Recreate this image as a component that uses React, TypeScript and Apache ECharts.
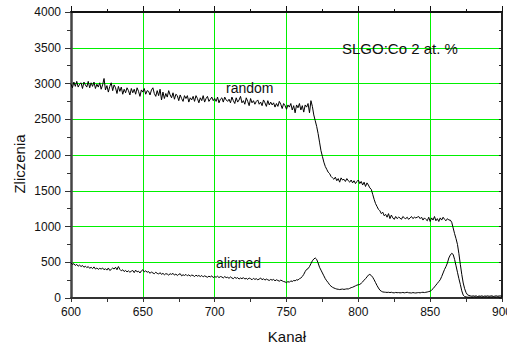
import { useEffect, useRef } from "react";
import * as echarts from "echarts";

const channelStart = 600;

// "random" spectrum, one value per channel from 600 to 900
const randomCounts = [
  2990, 2940, 3020, 2960, 3030, 2950, 2990, 3010, 2930, 3020,
  2980, 2950, 3030, 2940, 3010, 2960, 3020, 2930, 2990, 2950,
  3010, 2920, 2980, 3070, 2910, 2970, 2880, 2960, 3010, 2900,
  2980, 2940, 2860, 2960, 2890, 2950, 2850, 2920, 2870, 2940,
  2900, 2840, 2930, 2870, 2920, 2850, 2940, 2890, 2820, 2910,
  2880, 2930, 2850, 2900, 2890, 2840, 2910, 2940, 2860, 2820,
  2900, 2830, 2920, 2770, 2880, 2790, 2860, 2810, 2900, 2840,
  2800, 2870, 2780, 2850, 2830, 2760, 2840, 2790, 2750, 2830,
  2790, 2830, 2740, 2800, 2770, 2820, 2750, 2830, 2790, 2730,
  2800, 2760, 2830, 2740, 2790, 2820, 2750, 2780, 2810, 2760,
  2790, 2750, 2810, 2730, 2780, 2800, 2740, 2810, 2770, 2750,
  2780, 2730, 2810, 2760, 2720, 2800, 2740, 2770, 2820, 2730,
  2760, 2710, 2800, 2750, 2690, 2790, 2730, 2760, 2710, 2750,
  2770, 2710, 2740, 2690, 2770, 2730, 2680, 2760, 2700, 2740,
  2700, 2730, 2670, 2720, 2680, 2750, 2710, 2650, 2720, 2690,
  2640, 2700, 2670, 2720, 2630, 2690, 2590, 2700, 2660, 2720,
  2630, 2690, 2600, 2700, 2670, 2720, 2590, 2760, 2680, 2560,
  2480, 2400, 2300, 2180, 2060, 1980, 1900, 1840, 1800, 1760,
  1740, 1700, 1680, 1660, 1690, 1640, 1670, 1620, 1680, 1650,
  1660, 1630, 1670, 1640, 1620, 1650, 1610, 1640, 1600, 1630,
  1650, 1600, 1630, 1580, 1620, 1560, 1610, 1580, 1540, 1520,
  1450, 1380, 1320, 1280, 1240, 1220, 1180, 1200, 1150, 1170,
  1130, 1180, 1110, 1160, 1120, 1100, 1140, 1110, 1130, 1120,
  1100, 1140, 1120, 1110, 1130, 1100, 1120, 1140, 1110, 1130,
  1120, 1130, 1140, 1110, 1130, 1090, 1120, 1100, 1080, 1130,
  1070, 1120, 1090, 1140, 1080, 1110, 1070, 1120, 1090, 1130,
  1100, 1080, 1110, 1090, 1090, 1060, 980, 900, 830, 750,
  620, 470, 330, 210, 130, 75, 45, 35, 30, 25,
  30, 25, 30, 20, 28, 25, 30, 22, 28, 25,
  30, 24, 28, 30, 22, 26, 30, 25, 28, 30,
  25,
];

// "aligned" spectrum, one value per channel from 600 to 900
const alignedCounts = [
  490, 470, 480, 455, 470, 445, 460, 440, 455, 430,
  445, 425, 440, 415, 430, 410, 435, 405, 420, 400,
  415, 405, 420, 395, 410, 390, 420, 385, 400, 420,
  405, 430, 395, 440, 400, 380, 395, 370, 385, 365,
  380, 360, 375, 385, 355, 390, 365, 375, 350, 380,
  395, 365, 380, 360, 370, 345, 365, 350, 340, 360,
  345, 335, 355, 330, 345, 325, 340, 335, 320, 340,
  330, 345, 320, 335, 315, 330, 340, 310, 325, 315,
  330, 310, 325, 305, 320, 315, 300, 320, 305, 315,
  300, 315, 295, 310, 300, 290, 305, 295, 310, 285,
  300, 290, 305, 285, 300, 295, 280, 300, 285, 290,
  275, 295, 280, 270, 290, 275, 285, 265, 280, 270,
  285, 265, 275, 260, 280, 270, 255, 275, 260, 270,
  255, 265, 280, 255, 270, 250, 265, 255, 245, 260,
  250, 260, 240, 255, 245, 235, 250, 240, 230, 225,
  215, 230, 220, 240, 230, 245, 240, 255, 250, 270,
  280, 300, 330, 370, 400, 410, 440, 480, 520, 545,
  560, 540, 490, 430, 390, 350, 310, 270, 240, 215,
  185, 165, 150, 140, 132, 125, 122, 118, 122, 125,
  120, 124, 128, 126, 135, 145, 150, 160, 170, 180,
  185, 190, 205, 225, 250, 270, 295, 320, 330, 315,
  290, 255, 215, 175, 140, 110, 95, 85, 82, 80,
  78, 80, 76, 80, 74, 72, 78, 74, 76, 72,
  74, 78, 72, 76, 80, 74, 72, 70, 76, 72,
  70, 74, 76, 72, 78, 80, 76, 80, 84, 90,
  95, 110, 130, 155, 180, 205, 230, 255, 300, 350,
  400, 440, 490, 560, 600, 625, 610, 540, 450, 360,
  270, 190, 100, 40, 20, 15, 12, 10, 12, 10,
  12, 15, 10, 14, 12, 16, 10, 14, 12, 15,
  12, 10, 14, 12, 15, 10, 12, 14, 10, 12,
  12,
];

const xMin = 600;
const xMax = 900;
const xStep = 50;
const yMin = 0;
const yMax = 4000;
const yStep = 500;

const xAxisTitle = "Kanał";
const yAxisTitle = "Zliczenia";
const sampleLabel = "SLGO:Co 2 at. %";
const randomLabel = "random";
const alignedLabel = "aligned";

const FONT = "Liberation Sans, Arial, sans-serif";
const GRID_GREEN = "#00f000";

export default function App() {
  const ref = useRef<HTMLDivElement>(null);

  useEffect(() => {
    if (!ref.current) return;
    const chart = echarts.init(ref.current, undefined, { renderer: "svg" });
    const toPairs = (arr: number[]) => arr.map((v, i) => [channelStart + i, v]);
    const plain = (v: number) => String(v);

    chart.setOption({
      animation: false,
      backgroundColor: "#ffffff",
      grid: {
        left: 71,
        right: 5,
        top: 12,
        bottom: 47,
        containLabel: false,
        outerBoundsMode: "none",
      },
      xAxis: [
        {
          type: "value",
          position: "bottom",
          min: xMin,
          max: xMax,
          interval: xStep,
          axisLine: { show: true, onZero: false, lineStyle: { color: "#333", width: 2 } },
          axisTick: { show: true, inside: false, length: 4, lineStyle: { color: "#333", width: 1 } },
          minorTick: { show: true, splitNumber: 2, length: 4, lineStyle: { color: "#333", width: 1 } },
          axisLabel: { fontSize: 12, color: "#111", margin: 8, fontFamily: FONT, formatter: plain, hideOverlap: false },
          splitLine: { show: true, lineStyle: { color: GRID_GREEN, width: 1 } },
        },
        {
          type: "value",
          position: "top",
          min: xMin,
          max: xMax,
          interval: xStep,
          axisLine: { show: true, onZero: false, lineStyle: { color: "#111", width: 2 } },
          axisTick: { show: true, inside: false, length: 6, lineStyle: { color: "#111", width: 1 } },
          minorTick: { show: true, splitNumber: 2, length: 3, lineStyle: { color: "#111", width: 1 } },
          axisLabel: { show: false },
          splitLine: { show: false },
        },
      ],
      yAxis: [
        {
          type: "value",
          position: "left",
          min: yMin,
          max: yMax,
          interval: yStep,
          axisLine: { show: true, onZero: false, lineStyle: { color: "#444", width: 2.5 } },
          axisTick: { show: true, inside: false, length: 6, lineStyle: { color: "#333", width: 1 } },
          minorTick: { show: true, splitNumber: 2, length: 4, lineStyle: { color: "#333", width: 1 } },
          axisLabel: { fontSize: 12, color: "#111", margin: 10, fontFamily: FONT, formatter: plain },
          splitLine: { show: true, lineStyle: { color: GRID_GREEN, width: 1 } },
        },
        {
          type: "value",
          position: "right",
          min: yMin,
          max: yMax,
          interval: yStep / 2,
          axisLine: { show: true, onZero: false, lineStyle: { color: "#222", width: 2 } },
          axisTick: { show: true, inside: true, length: 3, lineStyle: { color: "#222", width: 1 } },
          axisLabel: { show: false },
          splitLine: { show: false },
        },
      ],
      series: [
        {
          name: randomLabel,
          type: "line",
          xAxisIndex: 0,
          yAxisIndex: 0,
          showSymbol: false,
          symbol: "none",
          lineStyle: { color: "#000", width: 1 },
          data: toPairs(randomCounts),
          z: 5,
        },
        {
          name: alignedLabel,
          type: "line",
          xAxisIndex: 0,
          yAxisIndex: 0,
          showSymbol: false,
          symbol: "none",
          lineStyle: { color: "#000", width: 1 },
          data: toPairs(alignedCounts),
          z: 5,
        },
      ],
      graphic: [
        {
          type: "text",
          x: 342,
          y: 48,
          style: { text: sampleLabel, fontSize: 15, fontFamily: FONT, fill: "#111", verticalAlign: "middle" },
          z: 10,
        },
        {
          type: "text",
          x: 226,
          y: 88,
          style: { text: randomLabel, fontSize: 14, fontFamily: FONT, fill: "#111", verticalAlign: "middle" },
          z: 10,
        },
        {
          type: "text",
          x: 216,
          y: 263,
          style: { text: alignedLabel, fontSize: 14, fontFamily: FONT, fill: "#111", verticalAlign: "middle" },
          z: 10,
        },
        {
          type: "text",
          x: 287,
          y: 336,
          style: { text: xAxisTitle, fontSize: 15, fontFamily: FONT, fill: "#111", align: "center", verticalAlign: "middle" },
          z: 10,
        },
        {
          type: "text",
          x: 19,
          y: 164,
          rotation: Math.PI / 2,
          style: { text: yAxisTitle, fontSize: 15, fontFamily: FONT, fill: "#111", align: "center", verticalAlign: "middle" },
          z: 10,
        },
      ],
    });

    return () => chart.dispose();
  }, []);

  return (
    <div
      ref={ref}
      style={{ position: "fixed", left: 0, top: 0, width: 507, height: 345, background: "#fff" }}
    />
  );
}
